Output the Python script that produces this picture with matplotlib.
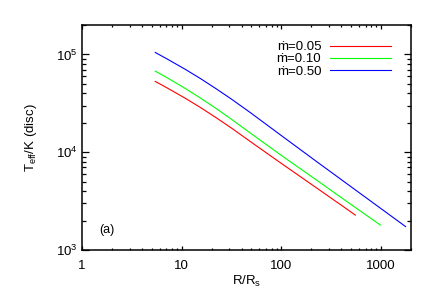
import matplotlib
matplotlib.use("Agg")
import matplotlib.pyplot as plt
from matplotlib.ticker import LogLocator, FixedLocator, NullFormatter

plt.rcParams['font.family'] = ['Liberation Sans', 'DejaVu Sans']
plt.rcParams['mathtext.fontset'] = 'custom'
plt.rcParams['mathtext.rm'] = 'Liberation Sans'
plt.rcParams['mathtext.it'] = 'Liberation Sans'
plt.rcParams['mathtext.default'] = 'regular'

# Data
labels = ["ṁ=0.05", "ṁ=0.10", "ṁ=0.50"]
colors = ["#ff0000", "#00ff00", "#0000ff"]

r_005 = [5.43, 7.08, 10.9, 15.5, 21.8, 31.6, 49.2, 98.6, 222, 445, 552]
t_005 = [52966, 45709, 35563, 28576, 22803, 17660, 12794, 7762, 4365, 2661, 2275]

r_010 = [5.43, 7.08, 10.9, 15.5, 21.8, 31.6, 49.2, 98.6, 222, 445, 986]
t_010 = [67608, 58076, 44771, 35686, 28314, 21727, 15631, 9376, 5248, 3177, 1799]

r_050 = [5.43, 7.08, 10.9, 15.5, 21.8, 31.6, 49.2, 98.6, 222, 445, 1762]
t_050 = [104713, 90365, 70307, 56494, 45082, 34914, 25293, 14962, 8128, 4842, 1738]

xticks = [1, 10, 100, 1000]
xticklabels = ["1", "10", "100", "1000"]

fig = plt.figure(figsize=(4.36, 3.0), dpi=100)
ax = fig.add_axes([82/436, 50/300, 329/436, 225/300])

for r, t, c, lab in zip([r_005, r_010, r_050], [t_005, t_010, t_050], colors, labels):
    ax.plot(r, t, color=c, lw=0.8, label=lab)

ax.set_xscale('log')
ax.set_yscale('log')
ax.set_xlim(1, 2000)
ax.set_ylim(1e3, 2e5)

ax.xaxis.set_major_locator(FixedLocator(xticks))
ax.set_xticklabels(xticklabels)
ax.xaxis.set_minor_locator(LogLocator(base=10, subs=range(2, 10), numticks=20))
ax.xaxis.set_minor_formatter(NullFormatter())
ax.yaxis.set_minor_locator(LogLocator(base=10, subs=range(2, 10), numticks=20))
ax.yaxis.set_minor_formatter(NullFormatter())

for s in ax.spines.values():
    s.set_linewidth(1.1)

ax.tick_params(axis='both', which='both', direction='in', top=True, right=True,
               labelsize=9.5, width=0.9)
ax.tick_params(axis='x', which='major', length=3.2, pad=7)
ax.tick_params(axis='x', which='minor', length=1.6)
ax.tick_params(axis='y', which='major', length=5, pad=3)
ax.tick_params(axis='y', which='minor', length=2.8)

ax.set_xlabel(r"R/R$_{\rm s}$", fontsize=9.5)
ax.set_ylabel(r"T$_{\rm eff}$/K (disc)", fontsize=9.5)
ax.xaxis.set_label_coords(0.5, -0.105)
ax.yaxis.set_label_coords(-0.131, 0.50)

ax.text(0.076, 0.089, "(a)", transform=ax.transAxes, ha='center', va='center', fontsize=9)

leg = ax.legend(loc='upper right', bbox_to_anchor=(0.9757, 0.982), frameon=False,
                markerfirst=False, handlelength=4.6, handletextpad=0.7,
                labelspacing=0.0, fontsize=9.5, borderaxespad=0.6, borderpad=0.3)

fig.savefig("out.png", dpi=100)
